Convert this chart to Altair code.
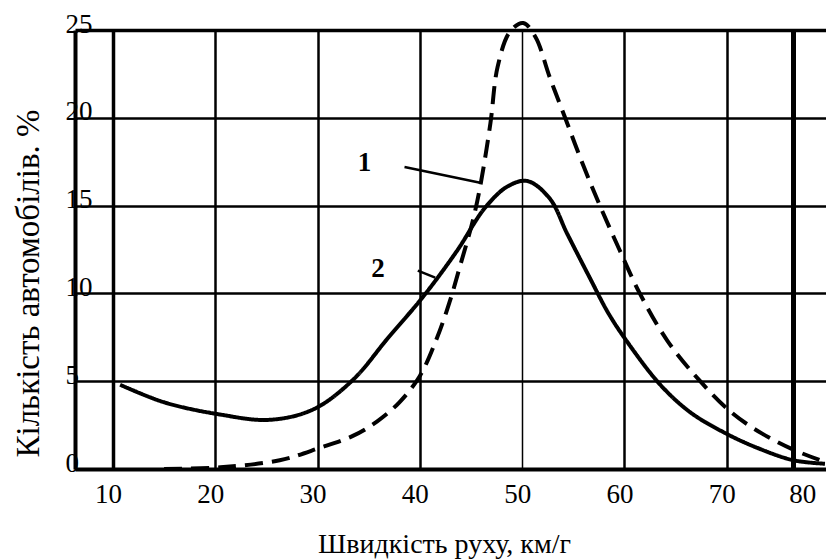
import altair as alt
import pandas as pd

# Curve 1 (dashed)
x1 = [15, 20.5, 26.3, 30.2, 33.5, 35.8, 38, 40, 41.7, 42.9, 43.9, 45.2, 45.9, 46.9, 47.6, 48.8,
      50.1, 51.3, 52.7, 54.2, 55.9, 57.6, 59.5, 61.5, 64.2, 67.4, 70.5, 73.5, 76.5, 79.6]
y1 = [0.0, 0.1, 0.5, 1.2, 1.9, 2.7, 3.8, 5.3, 7.5, 9.5, 11.5, 14.2, 16.1, 19.7, 22.9, 24.9,
      25.4, 24.6, 22.3, 20.0, 17.4, 15.0, 12.5, 10.0, 7.3, 5.0, 3.2, 2.0, 1.1, 0.4]

# Curve 2 (solid)
x2 = [10.7, 15, 20.5, 25.3, 29.6, 33.5, 36.8, 40.3, 43.6, 46.4, 48.6, 50.5, 52.7,
      54.4, 56.6, 58.4, 60.2, 63.5, 66.5, 70, 73, 76.5, 79.6]
y2 = [4.8, 3.8, 3.1, 2.8, 3.4, 5.1, 7.4, 9.8, 12.4, 14.9, 16.1, 16.4, 15.4,
      13.4, 10.9, 8.9, 7.3, 4.8, 3.2, 2.0, 1.2, 0.5, 0.3]

# Curve labels and leader lines
lab_text = ["1", "2"]
lab_x = [34.6, 35.9]
lab_y = [17.4, 11.4]
lead_x = [38.5, 39.8]
lead_y = [17.2, 11.3]
lead_x2 = [45.9, 41.5]
lead_y2 = [16.3, 10.9]

x_ticks = [10, 20, 30, 40, 50, 60, 70, 76.5]
y_ticks = [0, 5, 10, 15, 20, 25]

x_title = "Швидкість руху, км/г"
y_title = "Кількість автомобілів. %"

FONT = "Liberation Serif"

df = pd.concat([
    pd.DataFrame({"x": x1, "y": y1, "curve": "1"}),
    pd.DataFrame({"x": x2, "y": y2, "curve": "2"}),
])
labels = pd.DataFrame({"t": lab_text, "x": lab_x, "y": lab_y})
leaders = pd.DataFrame({"x": lead_x, "y": lead_y, "x2": lead_x2, "y2": lead_y2})

xscale = alt.Scale(domain=[6.29, 79.7], nice=False, zero=False)
yscale = alt.Scale(domain=[0, 25], nice=False, zero=False)

xaxis = alt.Axis(
    values=x_ticks,
    title=x_title,
    labelExpr="datum.value > 75 ? '80' : datum.label",
    ticks=False,
    grid=True,
    gridColor="black",
    gridWidth={"condition": [
        {"test": "datum.value == 10", "value": 3.5},
        {"test": "datum.value == 50", "value": 1.5},
        {"test": "datum.value > 75", "value": 5},
    ], "value": 2.5},
    domainColor="black",
    domainWidth=4,
    labelFont=FONT,
    labelFontSize=27,
    labelColor="black",
    labelPadding=12,
    labelOffset={"condition": {"test": "datum.value > 75", "value": 9}, "value": -5},
    labelFlush=False,
    labelOverlap=False,
    titleFont=FONT,
    titleFontSize=28,
    titleFontWeight="normal",
    titleColor="black",
    titleX=369,
    titleY=83,
    titleAlign="center",
    titleBaseline="alphabetic",
)

yaxis = alt.Axis(
    values=y_ticks,
    title=y_title,
    ticks=False,
    grid=True,
    gridColor="black",
    gridWidth={"condition": {"test": "datum.value == 25", "value": 3.5}, "value": 2.5},
    domainColor="black",
    domainWidth=4,
    labelFont=FONT,
    labelFontSize=27,
    labelColor="black",
    labelAlign="left",
    labelBaseline="middle",
    labelPadding=10,
    labelOffset=-6,
    labelFlush=False,
    labelOverlap=False,
    titleFont=FONT,
    titleFontSize=33,
    titleFontWeight="normal",
    titleColor="black",
    titleAngle=270,
    titleX=-47,
    titleY=253,
    titleAlign="center",
    titleBaseline="middle",
)

lines = alt.Chart(df).mark_line(interpolate="catmull-rom", color="black", strokeWidth=4).encode(
    x=alt.X("x:Q", scale=xscale, axis=xaxis),
    y=alt.Y("y:Q", scale=yscale, axis=yaxis),
    strokeDash=alt.StrokeDash("curve:N", scale=alt.Scale(domain=["1", "2"], range=[[18, 9], [1, 0]]), legend=None),
    detail="curve:N",
)

texts = alt.Chart(labels).mark_text(font=FONT, fontSize=27, fontWeight="bold", color="black").encode(
    x=alt.X("x:Q", scale=xscale),
    y=alt.Y("y:Q", scale=yscale),
    text="t:N",
)

rules = alt.Chart(leaders).mark_rule(color="black", strokeWidth=2.5).encode(
    x=alt.X("x:Q", scale=xscale),
    y=alt.Y("y:Q", scale=yscale),
    x2="x2:Q",
    y2="y2:Q",
)

chart = alt.layer(lines, rules, texts).properties(
    width=751,
    height=439,
    autosize=alt.AutoSizeParams(type="none"),
    padding={"left": 75, "top": 30, "right": 0, "bottom": 91},
    background="white",
).configure_view(stroke=None)

chart.save("out.html", embed_options={"renderer": "svg", "actions": False})
